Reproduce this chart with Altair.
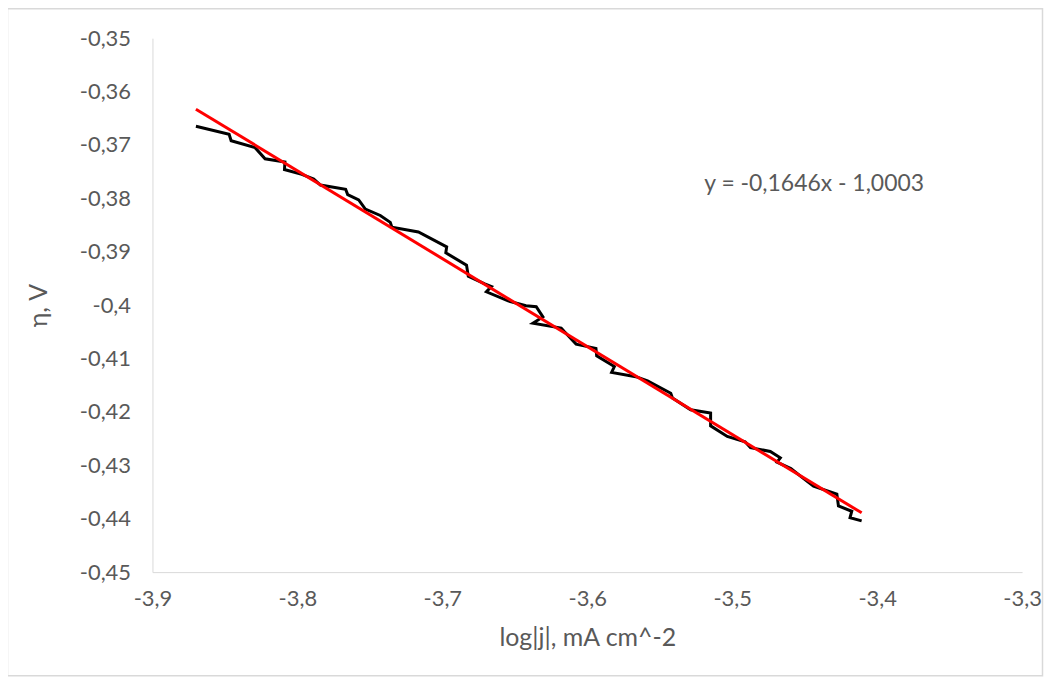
import altair as alt
import pandas as pd

# Measured curve (black)
log_j = [-3.8700, -3.8471, -3.8457, -3.8292, -3.8223, -3.8086, -3.8089, -3.7969,
         -3.7887, -3.7841, -3.7667, -3.7653, -3.7577, -3.7531, -3.7428, -3.7359,
         -3.7348, -3.7165, -3.6970, -3.6976, -3.6833, -3.6821, -3.6707, -3.6661,
         -3.6696, -3.6546, -3.6423, -3.6352, -3.6306, -3.6375, -3.6180, -3.6157,
         -3.6077, -3.5940, -3.5935, -3.5813, -3.5832, -3.5665, -3.5584, -3.5424,
         -3.5412, -3.5287, -3.5149, -3.5149, -3.5034, -3.4911, -3.4874, -3.4737,
         -3.4668, -3.4691, -3.4595, -3.4507, -3.4439, -3.4278, -3.4267, -3.4175,
         -3.4187, -3.4107]
eta = [-0.3665, -0.3680, -0.3692, -0.3705, -0.3726, -0.3732, -0.3746, -0.3755,
       -0.3764, -0.3775, -0.3783, -0.3793, -0.3803, -0.3820, -0.3832, -0.3845,
       -0.3854, -0.3863, -0.3891, -0.3902, -0.3925, -0.3946, -0.3960, -0.3965,
       -0.3975, -0.3992, -0.4001, -0.4003, -0.4022, -0.4034, -0.4043, -0.4050,
       -0.4073, -0.4081, -0.4095, -0.4115, -0.4126, -0.4134, -0.4142, -0.4165,
       -0.4174, -0.4196, -0.4202, -0.4226, -0.4246, -0.4256, -0.4267, -0.4274,
       -0.4286, -0.4294, -0.4306, -0.4325, -0.4339, -0.4354, -0.4376, -0.4386,
       -0.4398, -0.4404]

# Linear trendline (red)
trend_x = [-3.8700, -3.4107]
trend_y = [-0.3633, -0.4389]
slope = -0.1646
intercept = -1.0003

x_ticks = [-3.9, -3.8, -3.7, -3.6, -3.5, -3.4, -3.3]
y_ticks = [-0.35, -0.36, -0.37, -0.38, -0.39, -0.40, -0.41, -0.42, -0.43, -0.44, -0.45]

FONT = "Lato"
GRAY = "#595959"
LINE = "#d9d9d9"

df = pd.DataFrame({"x": log_j, "y": eta, "i": list(range(len(log_j)))})
tf = pd.DataFrame({"x": trend_x, "y": trend_y, "i": [0, 1]})

x_label = "replace(replace(format(datum.value, '.1~f'), '.', ','), '\u2212', '-')"
y_label = "replace(replace(format(datum.value, '.2~f'), '.', ','), '\u2212', '-')"

xs = alt.X("x:Q", scale=alt.Scale(domain=[-3.9, -3.3], nice=False, zero=False),
           axis=alt.Axis(values=x_ticks, labelExpr=x_label, title="log|j|, mA cm^-2",
                         grid=False, ticks=False, domainColor=LINE, labelColor=GRAY,
                         titleColor=GRAY, labelFont=FONT, titleFont=FONT,
                         labelFontSize=22, titleFontSize=25, titleFontWeight="normal",
                         labelPadding=17, titlePadding=16, labelFlush=False))
ys = alt.Y("y:Q", scale=alt.Scale(domain=[-0.45, -0.35], nice=False, zero=False),
           axis=alt.Axis(values=y_ticks, labelExpr=y_label, title="η, V",
                         grid=False, ticks=False, domainColor=LINE, labelColor=GRAY,
                         titleColor=GRAY, labelFont=FONT, titleFont=FONT,
                         labelFontSize=22, titleFontSize=25, titleFontWeight="normal",
                         labelPadding=22, titlePadding=28, labelFlush=False))

curve = alt.Chart(df).mark_line(color="#000000", strokeWidth=3).encode(
    x=xs, y=ys, order="i:Q")
trend = alt.Chart(tf).mark_line(color="#ff0000", strokeWidth=3).encode(
    x="x:Q", y="y:Q", order="i:Q")

eq_text = f"y = {slope:.4f}x - {abs(intercept):.4f}".replace(".", ",")
eq = alt.Chart(pd.DataFrame({"t": [eq_text]})).mark_text(
    align="left", baseline="middle", font=FONT, fontSize=23, color=GRAY
).encode(x=alt.value(554), y=alt.value(146), text="t:N")

frame = alt.Chart(pd.DataFrame({"a": [0]})).mark_rect(
    fillOpacity=0, stroke=LINE, strokeWidth=1.5
).encode(x=alt.value(-145.5), x2=alt.value(893.5), y=alt.value(-29.5), y2=alt.value(640))

chart = alt.layer(frame, curve, trend, eq).properties(
    width=873, height=536,
    autosize=alt.AutoSizeParams(type="none"),
    padding={"left": 145, "top": 29, "right": 22, "bottom": 104},
).configure_view(stroke=None)

chart.save("out.html", embed_options={"renderer": "svg", "actions": False})
